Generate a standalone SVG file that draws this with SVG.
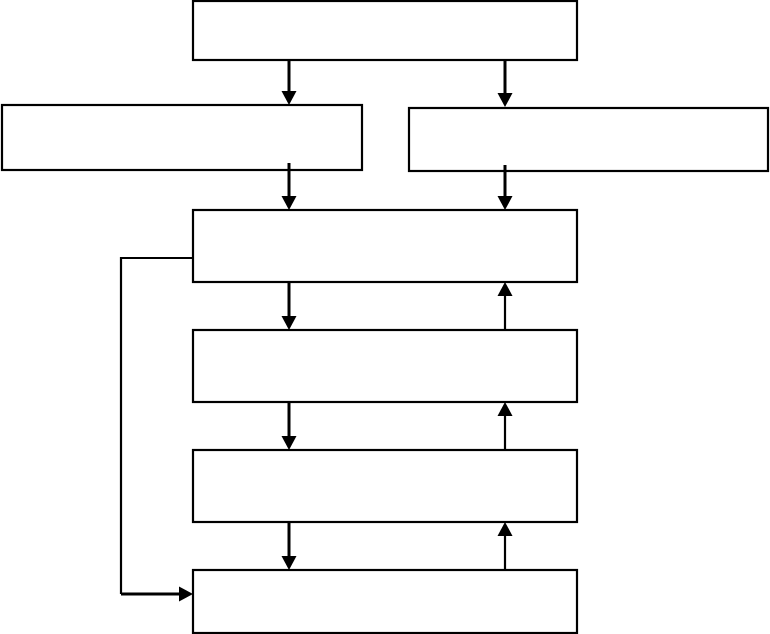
<svg xmlns="http://www.w3.org/2000/svg" width="770" height="634" viewBox="0 0 770 634">
<style>
.box{fill:#fff;stroke:#000;stroke-width:2.2}
.arr{fill:none;stroke:#000;stroke-width:3}
.fb{fill:none;stroke:#000;stroke-width:2.2}
.head{fill:#000;stroke:none}
</style>
<rect width="770" height="634" fill="#fff"/>
<g id="n1"><rect class="box" x="193" y="1" width="384" height="59"/></g>
<g id="n2"><rect class="box" x="2" y="105" width="360" height="65"/></g>
<g id="n3"><rect class="box" x="409" y="108" width="359" height="63"/></g>
<g id="n4"><rect class="box" x="193" y="210" width="384" height="72"/></g>
<g id="n5"><rect class="box" x="193" y="330" width="384" height="72"/></g>
<g id="n6"><rect class="box" x="193" y="450" width="384" height="72"/></g>
<g id="n7"><rect class="box" x="193" y="570" width="384" height="63"/></g>
<g id="connectors">
<line class="arr" x1="289" y1="60" x2="289" y2="92"/>
<polygon class="head" points="281.5,91 296.5,91 289,105"/>
<line class="arr" x1="505" y1="60" x2="505" y2="94"/>
<polygon class="head" points="497.5,93 512.5,93 505,107"/>
<line class="arr" x1="289" y1="163" x2="289" y2="197"/>
<polygon class="head" points="281.5,196 296.5,196 289,210"/>
<line class="arr" x1="505" y1="165" x2="505" y2="197"/>
<polygon class="head" points="497.5,196 512.5,196 505,210"/>
<line class="arr" x1="289" y1="282" x2="289" y2="317"/>
<polygon class="head" points="281.5,316 296.5,316 289,330"/>
<line class="arr" x1="289" y1="402" x2="289" y2="437"/>
<polygon class="head" points="281.5,436 296.5,436 289,450"/>
<line class="arr" x1="289" y1="522" x2="289" y2="557"/>
<polygon class="head" points="281.5,556 296.5,556 289,570"/>
<line class="fb" x1="505" y1="330" x2="505" y2="295"/>
<polygon class="head" points="497.5,296 512.5,296 505,282"/>
<line class="fb" x1="505" y1="450" x2="505" y2="415"/>
<polygon class="head" points="497.5,416 512.5,416 505,402"/>
<line class="fb" x1="505" y1="570" x2="505" y2="535"/>
<polygon class="head" points="497.5,536 512.5,536 505,522"/>
<polyline class="fb" points="193,258 121,258 121,594"/>
<line class="arr" x1="121" y1="594" x2="180" y2="594"/>
<polygon class="head" points="179,586.5 179,601.5 193,594"/>
</g>
</svg>
